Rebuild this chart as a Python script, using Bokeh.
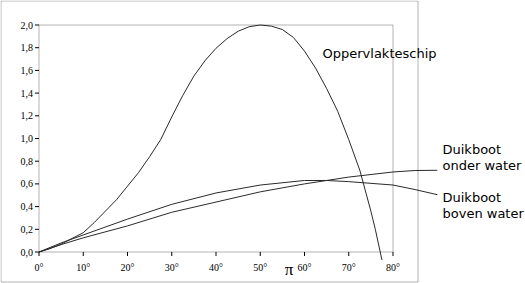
import math
from bokeh.plotting import figure
from bokeh.models import Label, BoxAnnotation, Range1d
from bokeh.embed import file_html
from bokeh.resources import INLINE

# ---- data ----
surface_angle = [0, 2.5, 5, 7.5, 10, 12.5, 15, 17.5, 20, 22.5, 25, 27.5, 30, 32.5, 35,
                 37.5, 40, 42.5, 45, 47.5, 50, 52.5, 55, 57.5, 60, 62.5, 65, 67.5,
                 70, 72.5, 75, 76, 77.5]
surface_value = [0, 0.03, 0.07, 0.12, 0.17, 0.26, 0.36, 0.46, 0.58, 0.70, 0.84, 0.99,
                 1.19, 1.38, 1.55, 1.685, 1.795, 1.88, 1.945, 1.985, 2.0, 1.99, 1.96, 1.89,
                 1.77, 1.62, 1.44, 1.24, 0.99, 0.72, 0.36, 0.2, -0.07]

sub_angle = [0, 5, 10, 20, 30, 40, 50, 60, 65, 70, 80, 85, 90]
boven_value = [0, 0.08, 0.15, 0.29, 0.42, 0.52, 0.59, 0.63, 0.63, 0.62, 0.59, 0.55, 0.505]
onder_value = [0, 0.065, 0.125, 0.23, 0.35, 0.44, 0.53, 0.60, 0.63, 0.66, 0.705, 0.718, 0.72]

x_ticks = [0, 10, 20, 30, 40, 50, 60, 70, 80]
x_tick_labels = ["0°", "10°", "20°", "30°", "40°", "50°", "60°", "70°", "80°"]
y_ticks = [0.0, 0.2, 0.4, 0.6, 0.8, 1.0, 1.2, 1.4, 1.6, 1.8, 2.0]
y_tick_labels = ["0,0", "0,2", "0,4", "0,6", "0,8", "1,0", "1,2", "1,4", "1,6", "1,8", "2,0"]

label_surface = "Oppervlakteschip"
label_onder = ["Duikboot", "onder water"]
label_boven = ["Duikboot", "boven water"]
pi_label_angle = 56.5

# ---- figure: the frame fills the whole canvas so curves may run past the axes box ----
W, H = 525, 283
x0_px, px_per_deg = 38.5, 4.425
y0_px, px_per_unit = 251.5, 113.5
p = figure(width=W, height=H, output_backend="svg", toolbar_location=None,
           x_axis_location=None, y_axis_location=None,
           x_range=Range1d(-x0_px / px_per_deg, (W - x0_px) / px_per_deg),
           y_range=Range1d(-(H - y0_px) / px_per_unit, y0_px / px_per_unit))
p.min_border = 0
p.min_border_left = p.min_border_right = p.min_border_top = p.min_border_bottom = 0
p.outline_line_color = None
p.background_fill_color = "white"
p.border_fill_color = "white"
p.grid.visible = False

# outer picture frame
p.add_layout(BoxAnnotation(left=0.5, right=417.5, top=0.5, bottom=281.5,
                           left_units="canvas", right_units="canvas",
                           top_units="canvas", bottom_units="canvas",
                           fill_alpha=0, line_color="black", line_width=1))
# plot-area box
p.add_layout(BoxAnnotation(left=x_ticks[0], right=x_ticks[-1], bottom=y_ticks[0], top=y_ticks[-1],
                           fill_alpha=0, line_color="black", line_width=1))

# ticks and tick labels
p.ray(x=x_ticks, y=[y_ticks[0]] * len(x_ticks), length=4, length_units="screen",
      angle=-math.pi / 2, line_color="black", line_width=1)
p.ray(x=[x_ticks[0]] * len(y_ticks), y=y_ticks, length=4, length_units="screen",
      angle=math.pi, line_color="black", line_width=1)
tick_font = "Liberation Serif"
for xv, lab in zip(x_ticks, x_tick_labels):
    p.add_layout(Label(x=xv, y=y_ticks[0], y_offset=-15.5, text=lab,
                       text_font=tick_font, text_font_size="10px", text_align="center",
                       text_baseline="middle", text_color="black"))
for yv, lab in zip(y_ticks, y_tick_labels):
    p.add_layout(Label(x=x_ticks[0], y=yv, x_offset=-6, text=lab,
                       text_font=tick_font, text_font_size="10px", text_align="right",
                       text_baseline="middle", text_color="black"))
p.add_layout(Label(x=pi_label_angle, y=y_ticks[0], y_offset=-17, text="\u03c0",
                   text_font=tick_font, text_font_size="17px", text_align="center",
                   text_baseline="middle", text_color="black"))

# curves
line_col = "#2a2a2a"
p.line(surface_angle, surface_value, line_color=line_col, line_width=1)
p.line(sub_angle, boven_value, line_color=line_col, line_width=1)
p.line(sub_angle, onder_value, line_color=line_col, line_width=1)

font = "DejaVu Sans"
fs = "13px"
p.add_layout(Label(x=322, y=53, x_units="canvas", y_units="canvas", text=label_surface,
                   text_font=font, text_font_size=fs, text_baseline="alphabetic",
                   text_color="black"))
for i, t in enumerate(label_onder):
    p.add_layout(Label(x=442, y=149 + 16 * i, x_units="canvas", y_units="canvas", text=t,
                       text_font=font, text_font_size=fs, text_baseline="alphabetic",
                       text_color="black"))
for i, t in enumerate(label_boven):
    p.add_layout(Label(x=442, y=197 + 16 * i, x_units="canvas", y_units="canvas", text=t,
                       text_font=font, text_font_size=fs, text_baseline="alphabetic",
                       text_color="black"))

open("out.html", "w").write(file_html(p, INLINE))
